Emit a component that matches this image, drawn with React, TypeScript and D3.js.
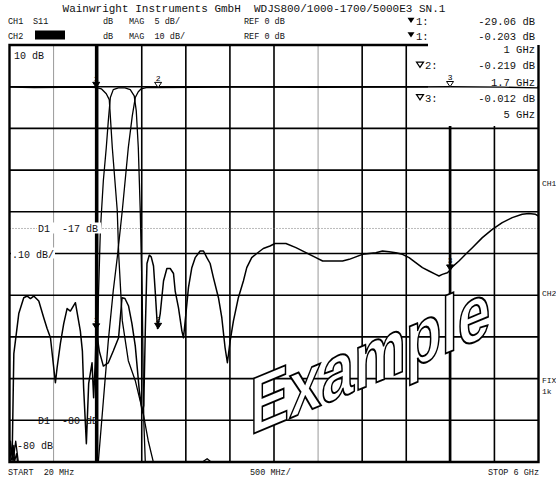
import * as d3 from 'd3';

const W = 556;
const H = 477;
const PLOT = { left: 9.5, right: 538.5, top: 45, bottom: 462 };
const BOX = { x0: 428, y1: 126 }; // marker readout corner, top right

const FREQ_RANGE = [20, 6000]; // MHz, 500 MHz/div
const CH1_RANGE = [-45, 5]; // S11, 5 dB/div, ref 0 dB
const CH2_RANGE = [-90, 10]; // S21, 10 dB/div, ref 0 dB

const title = 'Wainwright Instruments GmbH  WDJS800/1000-1700/5000E3 SN.1';

// [MHz, dB]
const s11: [number, number][] = [
  [31, -45], [50, -44.4], [69, -32], [125, -27.2], [181, -25.3], [220, -25.1], [257, -25.4],
  [294, -25.1], [351, -25.7], [407, -27.7], [445, -29], [483, -30.1], [520, -33.7], [539, -35.5],
  [558, -33.7], [595, -30.8], [633, -28.4], [671, -26.6], [708, -26.9], [765, -25.9], [821, -29.3],
  [844, -31.7], [858, -36.1], [889, -42.8], [915, -35.6], [953, -33.1], [971, -37.3], [990, -32.9],
  [1000, -29.06], [1035, -31.7], [1081, -33.5], [1137, -33.1], [1193, -31.7], [1253, -30.1],
  [1292, -25.3], [1325, -25.4], [1366, -26.3], [1404, -28.4], [1442, -31.1], [1487, -36.4],
  [1521, -39.1], [1538, -38.2], [1555, -29.3], [1574, -21.2], [1600, -20.2], [1622, -20.4],
  [1648, -21.5], [1667, -24.5], [1693, -29], [1724, -27.2], [1761, -23.3], [1799, -21.8],
  [1837, -21.8], [1874, -22.4], [1893, -24.5], [1930, -26.5], [1969, -29.3], [1987, -30.1],
  [2006, -28.1], [2043, -24.1], [2081, -21.7], [2119, -20.5], [2175, -19.7], [2213, -19.7],
  [2251, -20.5], [2288, -21.2], [2325, -22.9], [2382, -25.3], [2420, -27.7], [2457, -31.3],
  [2483, -33.1], [2514, -30.5], [2551, -28.1], [2607, -25.3], [2664, -23.3], [2702, -21.7],
  [2758, -20.5], [2815, -20], [2889, -19.4], [2965, -19.1], [3021, -18.8], [3078, -18.8],
  [3145, -18.8], [3258, -19.3], [3371, -19.9], [3484, -20.5], [3560, -20.9], [3672, -20.9],
  [3785, -20.9], [3860, -20.7], [3935, -20.4], [4011, -20.1], [4085, -20], [4161, -19.9],
  [4236, -19.7], [4311, -19.8], [4387, -19.9], [4462, -20.1], [4537, -20.5], [4612, -21.1],
  [4688, -21.7], [4762, -22.1], [4838, -22.5], [4875, -22.7], [4913, -22.5], [4970, -22.3],
  [5000, -22], [5026, -21.6], [5101, -20.9], [5176, -20.1], [5252, -19.3], [5365, -18.1],
  [5478, -17.1], [5590, -16.3], [5703, -15.7], [5816, -15.3], [5891, -15.2], [5966, -15.3],
  [6000, -15.5],
];

const s21Low: [number, number][] = [
  [20, -0.1], [300, -0.2], [600, -0.15], [900, -0.1], [1000, -0.2], [1058, -0.5], [1114, -1.7],
  [1148, -3.1], [1182, -14.6], [1238, -29.7], [1255, -40.5], [1295, -56.1], [1363, -65.7],
  [1442, -70.5], [1532, -78.4], [1588, -84.9], [1645, -89.9], [2200, -90], [2254, -89.2],
  [2300, -90], [6000, -90],
];

const s21Band: [number, number][] = [
  [20, -90], [31, -85], [54, -89], [69, -86], [76, -90], [99, -88], [110, -90], [1002, -90],
  [1013, -70.5], [1024, -51.3], [1047, -34.5], [1081, -22.5], [1114, -14.6], [1137, -8.2],
  [1160, -2.6], [1193, -0.7], [1250, -0.3], [1325, -0.3], [1385, -0.7], [1430, -2.2],
  [1453, -5.8], [1476, -14.6], [1498, -29.7], [1521, -51.3], [1538, -80.1], [1555, -90],
  [6000, -90],
];

const s21High: [number, number][] = [
  [20, -90], [40, -87], [60, -90], [90, -85], [120, -90], [1024, -90], [1081, -75.3],
  [1137, -60.9], [1193, -48.9], [1238, -41], [1295, -29.7], [1363, -14.6], [1408, -7],
  [1442, -2.6], [1476, -1.2], [1509, -0.5], [1566, -0.2], [1700, -0.22], [2500, -0.1],
  [3500, -0.15], [5000, -0.012], [5600, -0.1], [6000, -0.3],
];

// markers: frequency, channel values
const markerFreqs = [1000, 1700, 5000];
const markerNames = ['1', '2', '3'];
const markerS11 = [-29.06, -29, -22];
const markerS21 = [-0.203, -0.219, -0.012];

const headerRows = [
  { ch: 'CH1', param: 'S11', fmt: 'dB', scale: 'MAG  5 dB/', ref: 'REF 0 dB', mk: '1:', val: '-29.06 dB' },
  { ch: 'CH2', param: '', fmt: 'dB', scale: 'MAG  10 dB/', ref: 'REF 0 dB', mk: '1:', val: '-0.203 dB' },
];

const readout = [
  { label: '', val: '1 GHz' },
  { label: '2:', val: '-0.219 dB' },
  { label: '', val: '1.7 GHz' },
  { label: '3:', val: '-0.012 dB' },
  { label: '', val: '5 GHz' },
];

const MONO = '"Liberation Mono", "DejaVu Sans Mono", monospace';

// keep the analyzer's double spaces
const nb = (s: string) => s.replace(/ /g, '\u00a0');

export default function App() {
  const x = d3.scaleLinear().domain(FREQ_RANGE).range([PLOT.left, PLOT.right]);
  const y1 = d3.scaleLinear().domain(CH1_RANGE).range([PLOT.bottom, PLOT.top]);
  const y2 = d3.scaleLinear().domain(CH2_RANGE).range([PLOT.bottom, PLOT.top]);

  const line1 = d3.line<[number, number]>().x((d) => x(d[0])).y((d) => y1(d[1]));
  const line2 = d3.line<[number, number]>().x((d) => x(d[0])).y((d) => y2(d[1]));

  const pw = PLOT.right - PLOT.left;
  const ph = PLOT.bottom - PLOT.top;
  const vGrid = d3.range(1, 12).map((i) => PLOT.left + (i * pw) / 12);
  const hGrid = d3.range(1, 10).map((i) => PLOT.top + (i * ph) / 10);
  const grayCols = [1, 7];

  const tri = (cx: number, cy: number, s = 4) =>
    `M${cx - s},${cy - s * 1.5}L${cx + s},${cy - s * 1.5}L${cx},${cy}Z`;

  const limitY = y1(-17);

  return (
    <svg
      width={W}
      height={H}
      style={{ position: 'absolute', left: 0, top: 0, background: '#fff' }}
      fontFamily={MONO}
    >
      <defs>
        <clipPath id="plotClip">
          <rect x={PLOT.left} y={PLOT.top} width={pw} height={ph} />
        </clipPath>
      </defs>
      <rect width={W} height={H} fill="#fff" />

      {/* header */}
      <text x={254} y={12} fontSize={11} textAnchor="middle" fill="#111">
        {nb(title)}
      </text>
      {headerRows.map((r, i) => {
        const yy = 24 + i * 14.5;
        return (
          <g key={r.ch} fontSize={8.5} fill="#111">
            <text x={8} y={yy}>{r.ch}</text>
            {r.param ? <text x={33} y={yy}>{r.param}</text> : <rect x={35} y={yy - 8} width={30} height={9} fill="#000" />}
            <text x={103} y={yy}>{r.fmt}</text>
            <text x={129} y={yy}>{nb(r.scale)}</text>
            <text x={244} y={yy}>{nb(r.ref)}</text>
            <path d={tri(411, yy - 1, 3.5)} fill="#000" />
            <text x={416} y={yy + 1} fontSize={10.5}>{r.mk}</text>
            <text x={535} y={yy + 1} fontSize={10.5} textAnchor="end">{nb(r.val)}</text>
          </g>
        );
      })}

      {/* graticule */}
      {vGrid.map((gx, i) => (
        <line
          key={'v' + i}
          x1={gx}
          x2={gx}
          y1={PLOT.top}
          y2={PLOT.bottom}
          stroke={grayCols.includes(i + 1) ? '#999' : '#000'}
          strokeWidth={grayCols.includes(i + 1) ? 1 : 1.6}
        />
      ))}
      {hGrid.map((gy, i) => (
        <line key={'h' + i} x1={PLOT.left} x2={PLOT.right} y1={gy} y2={gy} stroke="#000" strokeWidth={1.6} />
      ))}
      <line x1={PLOT.left} x2={PLOT.right} y1={limitY} y2={limitY} stroke="#777" strokeWidth={1} strokeDasharray="1,2" />

      {/* readout corner */}
      <rect x={BOX.x0} y={PLOT.top - 2} width={PLOT.right - BOX.x0 - 1} height={BOX.y1 - PLOT.top + 2} fill="#fff" />
      <path
        d={`M${BOX.x0},${PLOT.top}H${PLOT.left}V${PLOT.bottom}H${PLOT.right}V${PLOT.top}`}
        fill="none"
        stroke="#000"
        strokeWidth={2.4}
      />

      {/* marker lines */}
      <line x1={x(1000)} x2={x(1000)} y1={PLOT.top} y2={PLOT.bottom} stroke="#000" strokeWidth={2.6} />
      <line x1={x(5000)} x2={x(5000)} y1={BOX.y1} y2={PLOT.bottom} stroke="#000" strokeWidth={2.6} />

      {/* traces */}
      <g clipPath="url(#plotClip)" fill="none" stroke="#000" strokeWidth={1.3} strokeLinejoin="round">
        <path d={line2(s21Low) || ''} />
        <path d={line2(s21Band) || ''} />
        <path d={line2(s21High) || ''} />
        <path d={line1(s11) || ''} strokeWidth={1.5} />
      </g>

      {/* markers */}
      {markerFreqs.map((f, i) => {
        const mx = x(f);
        const ya = y2(markerS21[i]);
        const yb = y1(markerS11[i]);
        const filled = i === 0;
        return (
          <g key={'m' + i} fontSize={8}>
            <path d={tri(mx, ya, 3.5)} fill={filled ? '#000' : '#fff'} stroke="#000" strokeWidth={1} />
            <text x={mx} y={ya - 7} textAnchor="middle">{markerNames[i]}</text>
            <path d={tri(mx, yb, 3.5)} fill="#000" stroke="#000" strokeWidth={1} />
            <text x={mx} y={yb - 7} textAnchor="middle">{markerNames[i]}</text>
          </g>
        );
      })}

      {/* marker readout */}
      {readout.map((r, i) => {
        const yy = 53 + i * 16.3;
        return (
          <g key={'r' + i} fontSize={10.5} fill="#111">
            {r.label && <path d={tri(420, yy - 2, 3.5)} fill="#fff" stroke="#000" strokeWidth={1.2} />}
            {r.label && <text x={425} y={yy}>{r.label}</text>}
            <text x={535} y={yy} textAnchor="end">{nb(r.val)}</text>
          </g>
        );
      })}

      {/* in-plot labels */}
      <g fontSize={10} fill="#111">
        <text x={14} y={59}>{nb('10 dB')}</text>
        <rect x={37} y={limitY - 6} width={64} height={11} fill="#fff" />
        <text x={38} y={limitY + 4}>{nb('D1  -17 dB')}</text>
        <rect x={11} y={y2(-40) - 6} width={44} height={11} fill="#fff" />
        <text x={12} y={y2(-40) + 4}>{nb('.10 dB/')}</text>
        <text x={38} y={y2(-80) + 4}>{nb('D1  -80 dB')}</text>
        <text x={17} y={y2(-86) + 4}>{nb('-80 dB')}</text>
      </g>

      {/* side labels, cut at the page edge as in the original */}
      <g fontSize={8} fill="#111">
        <text x={542} y={186}>CH1</text>
        <text x={542} y={296}>CH2</text>
        <text x={542} y={383}>FIX</text>
        <text x={542} y={394}>1k</text>
      </g>

      {/* footer */}
      <g fontSize={8.5} fill="#111">
        <text x={8} y={475}>{nb('START  20 MHz')}</text>
        <text x={250} y={475}>{nb('500 MHz/')}</text>
        <text x={539} y={475} textAnchor="end">{nb('STOP 6 GHz')}</text>
      </g>

      {/* watermark: condensed, sheared outline text */}
      <g transform="translate(250,435) skewY(-22.6) scale(0.73,1)">
        <text
          x={0}
          y={0}
          fontFamily='"Liberation Sans", Arial, sans-serif'
          fontWeight="bold"
          fontSize={80}
          fill="#fff"
          stroke="#000"
          strokeWidth={2}
        >
          Example
        </text>
      </g>
    </svg>
  );
}
